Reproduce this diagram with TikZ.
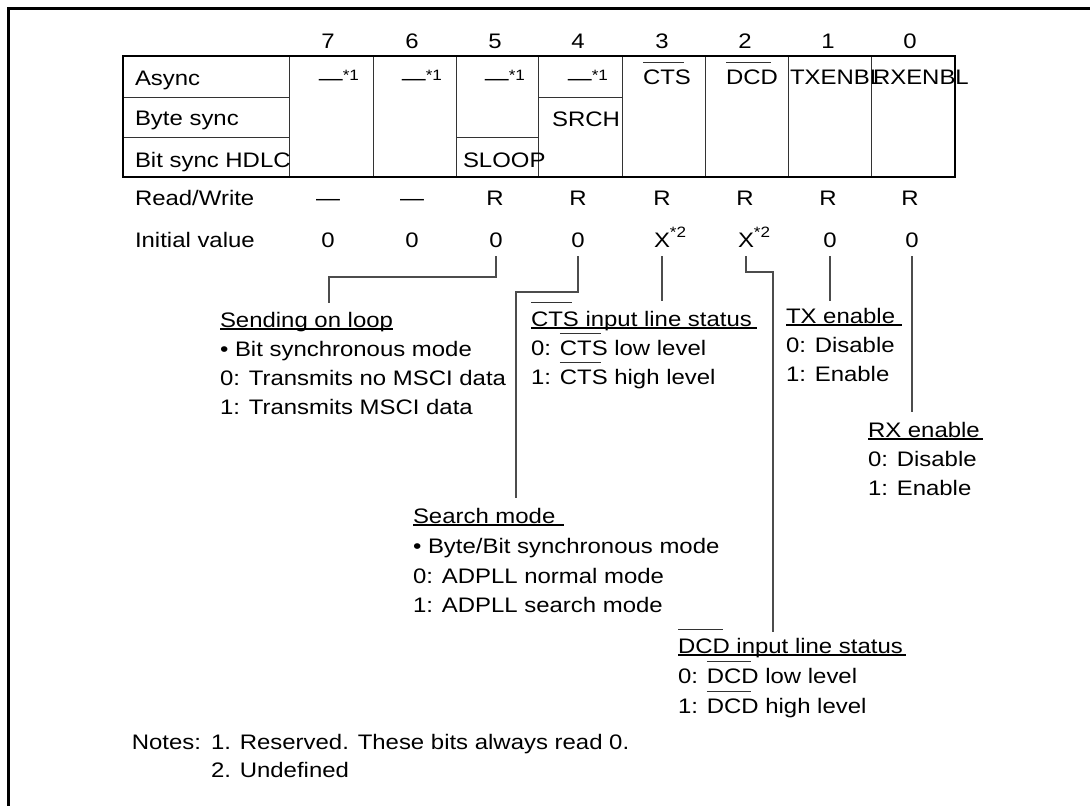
\documentclass[tikz,border=0pt]{standalone}
\usepackage{fontspec}
\setmainfont{Liberation Sans}[FakeStretch=1.14]
\newcommand\myfont{\fontsize{21}{29}\selectfont}
\newsavebox\ovlbox
\newcommand\ovl[2][21pt]{\sbox\ovlbox{#2}\rlap{\color{black!80}\rule[#1]{0.86\wd\ovlbox}{1.1pt}}#2}
\newsavebox\unlbox
\newcommand\unl[2][0pt]{\sbox\unlbox{#2}\rlap{\rule[-2.6pt]{\dimexpr\wd\unlbox+#1\relax}{1.2pt}}#2}
\newcommand\supr[2]{\raisebox{#1}{\fontsize{15}{15}\selectfont #2}}
\tikzset{
  lab/.style={inner sep=0pt, outer sep=0pt, anchor=base west, font=\myfont},
  ctr/.style={inner sep=0pt, outer sep=0pt, anchor=base, font=\myfont},
  rgt/.style={inner sep=0pt, outer sep=0pt, anchor=base east, font=\myfont},
  conn/.style={draw=black!70, line width=1.1pt},
  inner/.style={draw=black!80, line width=1pt},
  outerline/.style={draw=black, line width=2.7pt},
  frameline/.style={draw=black, line width=3pt},
}
\begin{document}
\begin{tikzpicture}[x=1pt,y=-1pt]
\useasboundingbox (0,0) rectangle (1090,806);
% frame (top and left edges)
\draw[frameline] (7,8.5) -- (1090,8.5);
\draw[frameline] (8.5,7) -- (8.5,806);

% table lines
\foreach \x in {289,373,456,538,622,705,788,871} \draw[inner] (\x,56) -- (\x,177);
\draw[inner] (123,97) -- (289,97);
\draw[inner] (123,137) -- (289,137);
\draw[inner] (456,137) -- (538,137);
\draw[inner] (538,97) -- (622,97);
\draw[outerline] (123,56) rectangle (955,177);

% header bits
\node[ctr] (h7) at (328,48) {7};
\node[ctr] (h6) at (412,48) {6};
\node[ctr] (h5) at (495,48) {5};
\node[ctr] (h4) at (578,48) {4};
\node[ctr] (h3) at (662,48) {3};
\node[ctr] (h2) at (745,48) {2};
\node[ctr] (h1) at (828,48) {1};
\node[ctr] (h0) at (910,48) {0};

% row labels
\node[lab] (async) at (135,85) {Async};
\node[lab] (bytes) at (135,125) {Byte sync};
\node[lab] (bits) at (135,167) {Bit sync HDLC};
\node[lab] (rw) at (135,205) {Read/Write};
\node[lab] (iv) at (135,247) {Initial value};

% cells
\node[rgt] (c7) at (359,85) {—\supr{5pt}{*1}};
\node[rgt] (c6) at (442,85) {—\supr{5pt}{*1}};
\node[rgt] (c5) at (525,85) {—\supr{5pt}{*1}};
\node[rgt] (c4) at (608,85) {—\supr{5pt}{*1}};
\node[lab] (c3) at (643,84) {\ovl{CTS}};
\node[lab] (c2) at (726,84) {\ovl{DCD}};
\node[lab] (c1) at (790,84) {TXENBL};
\node[lab] (c0) at (873,84) {RXENBL};
\node[rgt] (srch) at (620,126) {SRCH};
\node[lab] (sloop) at (463,167) {SLOOP};

% read/write
\node[ctr] (r7) at (328,205) {—};
\node[ctr] (r6) at (412,205) {—};
\node[ctr] (r5) at (495,205) {R};
\node[ctr] (r4) at (578,205) {R};
\node[ctr] (r3) at (662,205) {R};
\node[ctr] (r2) at (745,205) {R};
\node[ctr] (r1) at (828,205) {R};
\node[ctr] (r0) at (910,205) {R};

% initial values
\node[ctr] (v7) at (328,247) {0};
\node[ctr] (v6) at (412,247) {0};
\node[ctr] (v5) at (496,247) {0};
\node[ctr] (v4) at (578,247) {0};
\node[ctr] (v3) at (662,247) {X\rlap{\supr{10pt}{*2}}};
\node[ctr] (v2) at (746,247) {X\rlap{\supr{10pt}{*2}}};
\node[ctr] (v1) at (830,247) {0};
\node[ctr] (v0) at (912,247) {0};

% description blocks
\node[lab] (sl1) at (220,327) {\unl{Sending on loop}};
\node[lab] (sl2) at (220,356) {• Bit synchronous mode};
\node[lab] (sl3) at (220,385) {0: Transmits no MSCI data};
\node[lab] (sl4) at (220,414) {1: Transmits MSCI data};

\node[lab] (ct1) at (531,326) {\unl[5pt]{\ovl[23pt]{CTS} input line status}};
\node[lab] (ct2) at (531,355) {0: \ovl{CTS} low level};
\node[lab] (ct3) at (531,384) {1: \ovl{CTS} high level};

\node[lab] (tx1) at (786,323) {\unl[7pt]{TX enable}};
\node[lab] (tx2) at (786,352) {0: Disable};
\node[lab] (tx3) at (786,381) {1: Enable};

\node[lab] (rx1) at (868,437) {\unl[3pt]{RX enable}};
\node[lab] (rx2) at (868,466) {0: Disable};
\node[lab] (rx3) at (868,495) {1: Enable};

\node[lab] (sm1) at (413,523) {\unl[9pt]{Search mode}};
\node[lab] (sm2) at (413,553) {• Byte/Bit synchronous mode};
\node[lab] (sm3) at (413,583) {0: ADPLL normal mode};
\node[lab] (sm4) at (413,612) {1: ADPLL search mode};

\node[lab] (dc1) at (678,653) {\unl[3pt]{\ovl[23pt]{DCD} input line status}};
\node[lab] (dc2) at (678,683) {0: \ovl{DCD} low level};
\node[lab] (dc3) at (678,713) {1: \ovl{DCD} high level};

\node[rgt] (notes) at (201,749) {Notes:};
\node[lab] (n1) at (211,749) {1. Reserved. These bits always read 0.};
\node[lab] (n2) at (211,777) {2. Undefined};

% connector ends
\coordinate (e5) at (329,303);
\coordinate (e4) at (516,498);
\coordinate (e3) at (662,301);
\coordinate (e2) at (773,632);
\coordinate (e1) at (830,301);
\coordinate (e0) at (912,412);

\draw[conn] ([yshift=-9pt]v5.base) -- ++(0,21) -| (e5);
\draw[conn] ([yshift=-9pt]v4.base) -- ++(0,36) -| (e4);
\draw[conn] ([yshift=-9pt]v3.base) -- (e3);
\draw[conn] ([yshift=-9pt]v2.base) -- ++(0,16) -| (e2);
\draw[conn] ([yshift=-9pt]v1.base) -- (e1);
\draw[conn] ([yshift=-9pt]v0.base) -- (e0);
\end{tikzpicture}
\end{document}
